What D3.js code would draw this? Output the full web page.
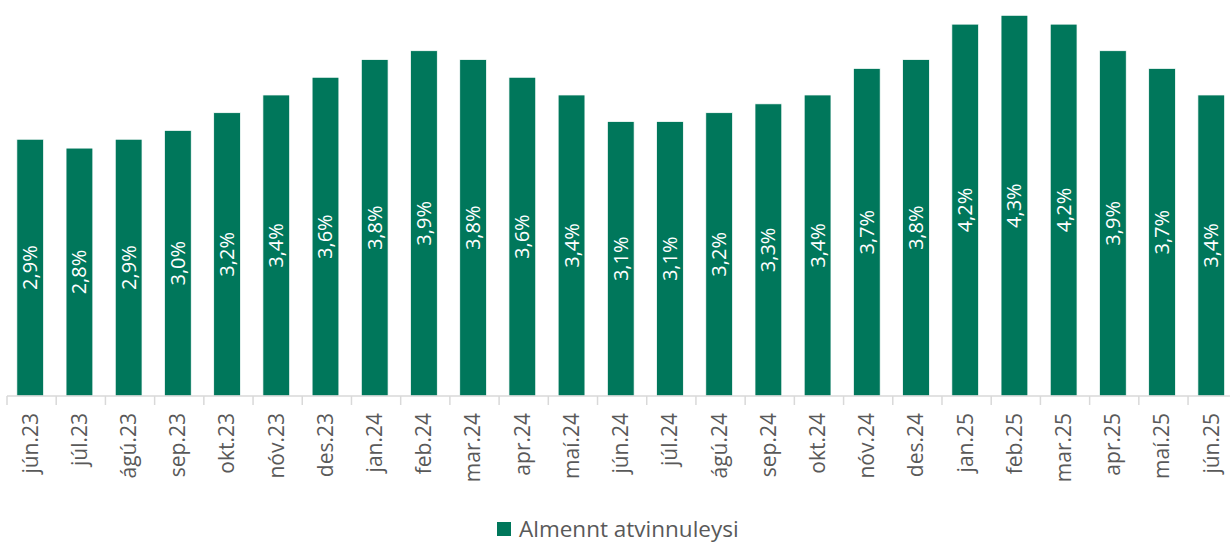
<!DOCTYPE html>
<html>
<head>
<meta charset="utf-8">
<script src="https://cdn.jsdelivr.net/npm/d3@7"></script>
<style>
body {margin:0;background:#fff;}
svg {display:block;font-family:"Open Sans",sans-serif;}
.axis-label {fill:#595959;font-size:21px;}
.bar-label {fill:#fff;font-size:20px;}
.legend-label {fill:#595959;font-size:22.5px;}
</style>
</head>
<body>
<svg id="chart" width="1230" height="543"></svg>
<script>
// months and unemployment rate (%)
var months = ['jún.23','júl.23','ágú.23','sep.23','okt.23','nóv.23','des.23','jan.24','feb.24','mar.24',
  'apr.24','maí.24','jún.24','júl.24','ágú.24','sep.24','okt.24','nóv.24','des.24','jan.25',
  'feb.25','mar.25','apr.25','maí.25','jún.25']
var rates = [2.9,2.8,2.9,3.0,3.2,3.4,3.6,3.8,3.9,3.8,3.6,3.4,3.1,3.1,3.2,3.3,3.4,3.7,3.8,4.2,4.3,4.2,3.9,3.7,3.4]
var seriesName = 'Almennt atvinnuleysi'

var green = '#00775b'
var svg = d3.select('#chart')

var x = d3.scaleBand().domain(months).range([7, 1234.5]).paddingInner(0.456).paddingOuter(0.2)
var y = d3.scaleLinear().domain([0, 4.3]).range([396, 15.3])

var fmt = function(v) { return d3.format('.1f')(v).replace('.', ',') + '%' }

// bars
svg.append('g').selectAll('rect')
  .data(rates)
  .enter()
  .append('rect')
    .attr('x', function(d, i) { return x(months[i]) })
    .attr('y', function(d) { return y(d) })
    .attr('width', x.bandwidth())
    .attr('height', function(d) { return y(0) - y(d) })
    .attr('fill', green)
    .attr('stroke', '#fff')
    .attr('stroke-width', 0.75)

// value labels, rotated inside the bars
svg.append('g').selectAll('text')
  .data(rates)
  .enter()
  .append('text')
    .classed('bar-label', true)
    .attr('transform', function(d, i) {
      return 'translate(' + (x(months[i]) + x.bandwidth() / 2) + ',' + ((y(d) + y(0)) / 2) + ') rotate(-90)'
    })
    .attr('text-anchor', 'middle')
    .attr('dy', '0.35em')
    .text(fmt)

// x axis: line + ticks between categories
var step = x.step()
var x0 = 7
var axis = svg.append('g')
axis.append('line')
  .attr('x1', x0).attr('x2', x0 + step * months.length)
  .attr('y1', 396).attr('y2', 396)
  .attr('stroke', '#d9d9d9').attr('stroke-width', 1.5)
axis.selectAll('.tick')
  .data(d3.range(months.length + 1))
  .enter()
  .append('line')
    .attr('x1', function(i) { return x0 + i * step })
    .attr('x2', function(i) { return x0 + i * step })
    .attr('y1', 396).attr('y2', 405)
    .attr('stroke', '#d9d9d9').attr('stroke-width', 1.5)

axis.selectAll('.axis-label')
  .data(months)
  .enter()
  .append('text')
    .classed('axis-label', true)
    .attr('transform', function(d) {
      return 'translate(' + (x(d) + x.bandwidth() / 2) + ',413) rotate(-90)'
    })
    .attr('text-anchor', 'end')
    .attr('dy', '0.35em')
    .text(function(d) { return d })

// legend
var legend = svg.append('g').attr('transform', 'translate(497,522)')
legend.append('rect').attr('width', 14).attr('height', 14).attr('fill', green)
legend.append('text').classed('legend-label', true)
  .attr('x', 22).attr('y', 7).attr('dy', '0.35em')
  .text(seriesName)
</script>
</body>
</html>
